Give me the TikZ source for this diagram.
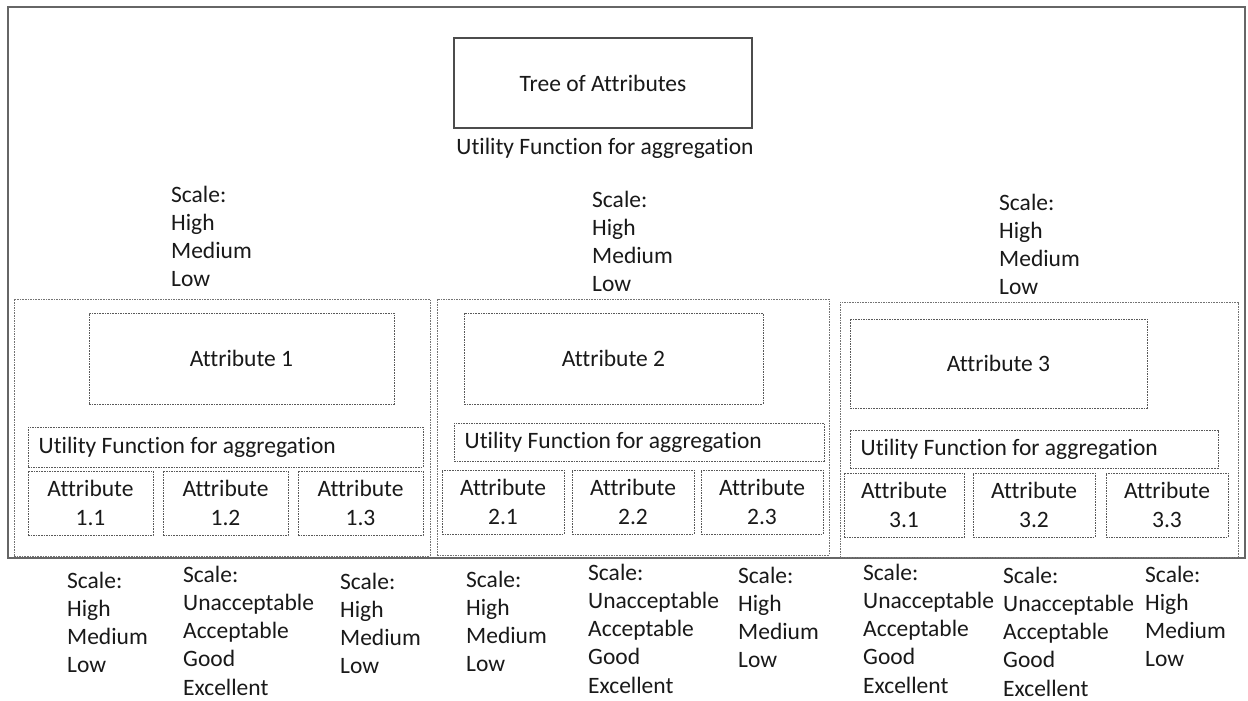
\documentclass[tikz,border=0pt]{standalone}
\usepackage{fontspec}
\setmainfont{Carlito}[Ligatures=NoCommon]
\begin{document}
\begin{tikzpicture}[x=1pt,y=-1pt,
  every node/.style={font=\fontsize{23.5}{28.3}\selectfont, text=black!90},
  frame/.style={draw=black!60, line width=2.5pt},
  solidbox/.style={draw=black!70, line width=1.1pt, inner sep=0pt},
  panel/.style={draw=black!55, line width=0.9pt, dash pattern=on 1.6pt off 1pt, inner sep=0pt},
  dbox/.style={draw=black!65, line width=1pt, dash pattern=on 1.6pt off 1pt, inner sep=0pt},
  subbox/.style={dbox, align=center},
  utext/.style={anchor=west, inner sep=0pt, xshift=11pt},
  lbl/.style={anchor=base west, inner sep=0pt}]
\newcommand\sclist[4]{%
  \foreach \t [count=\i from 0] in {#4} {\node[lbl] (#1-\i) at (#2,{#3+28.3*\i}) {\t};}}
\useasboundingbox (0,0) rectangle (1248,701);
\fill[white] (0,0) rectangle (1248,701);
% outer frame
\node[frame, inner sep=0pt, minimum width=1237pt, minimum height=551pt] (outer) at (626.5,282.5) {};
% top
\node[solidbox, minimum width=298pt, minimum height=90pt] (tree) at (603,83) {Tree of Attributes};
\node[anchor=base, inner sep=0pt] (topu) at (605,154) {Utility Function for aggregation};
% upper scale lists
\sclist{s1}{171}{202}{Scale:,High,Medium,Low}
\sclist{s2}{592}{207}{Scale:,High,Medium,Low}
\sclist{s3}{999}{210}{Scale:,High,Medium,Low}
% panel 1
\node[panel, minimum width=416pt, minimum height=257pt] (p1) at (222,427.5) {};
\node[dbox, minimum width=305pt, minimum height=91pt] (a1) at (241.5,358.5) {Attribute 1};
\node[dbox, minimum width=395pt, minimum height=40pt] (u1) at (225.5,447) {};
\node[utext] (u1t) at (u1.west) {Utility Function for aggregation};
\node[subbox, minimum width=125pt, minimum height=64pt] (a11) at (90.5,503) {Attribute\\1.1};
\node[subbox, minimum width=125pt, minimum height=64pt] (a12) at (225.5,503) {Attribute\\1.2};
\node[subbox, minimum width=125pt, minimum height=64pt] (a13) at (360.5,503) {Attribute\\1.3};
% panel 2
\node[panel, minimum width=392pt, minimum height=256pt] (p2) at (633,427) {};
\node[dbox, minimum width=299pt, minimum height=91pt] (a2) at (613.5,358.5) {Attribute 2};
\node[dbox, minimum width=370pt, minimum height=38pt] (u2) at (639,442) {};
\node[utext] (u2t) at (u2.west) {Utility Function for aggregation};
\node[subbox, minimum width=122pt, minimum height=64pt] (a21) at (503,502) {Attribute\\2.1};
\node[subbox, minimum width=122pt, minimum height=64pt] (a22) at (633,502) {Attribute\\2.2};
\node[subbox, minimum width=122pt, minimum height=64pt] (a23) at (762,502) {Attribute\\2.3};
% panel 3
\node[panel, minimum width=398pt, minimum height=255pt] (p3) at (1039,429.5) {};
\node[dbox, minimum width=297pt, minimum height=89pt] (a3) at (998.5,363.5) {Attribute 3};
\node[dbox, minimum width=368pt, minimum height=38pt] (u3) at (1034,449) {};
\node[utext] (u3t) at (u3.west) {Utility Function for aggregation};
\node[subbox, minimum width=120pt, minimum height=64pt] (a31) at (904,505) {Attribute\\3.1};
\node[subbox, minimum width=122pt, minimum height=64pt] (a32) at (1034,505) {Attribute\\3.2};
\node[subbox, minimum width=122pt, minimum height=64pt] (a33) at (1167,505) {Attribute\\3.3};
% bottom scale lists
\sclist{b1}{67}{588}{Scale:,High,Medium,Low}
\sclist{b2}{183}{582}{Scale:,Unacceptable,Acceptable,Good,Excellent}
\sclist{b3}{340}{589}{Scale:,High,Medium,Low}
\sclist{b4}{466}{587}{Scale:,High,Medium,Low}
\sclist{b5}{588}{580}{Scale:,Unacceptable,Acceptable,Good,Excellent}
\sclist{b6}{738}{583}{Scale:,High,Medium,Low}
\sclist{b7}{863}{580}{Scale:,Unacceptable,Acceptable,Good,Excellent}
\sclist{b8}{1003}{583}{Scale:,Unacceptable,Acceptable,Good,Excellent}
\sclist{b9}{1145}{582}{Scale:,High,Medium,Low}
\end{tikzpicture}
\end{document}
